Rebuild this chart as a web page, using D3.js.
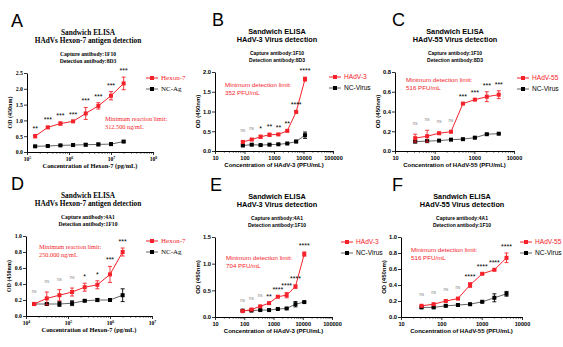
<!DOCTYPE html>
<html>
<head>
<meta charset="utf-8">
<script src="https://cdn.jsdelivr.net/npm/d3@7"></script>
<style>
body { margin: 0; background: #fff; }
</style>
</head>
<body>
<div id="chart"></div>
<script>
// --- data ---
var concA = [156250, 312500, 625000, 1250000, 2500000, 5000000, 10000000, 20000000];
var hexonA = [0.50, 0.78, 0.90, 0.97, 1.22, 1.46, 1.78, 2.17];
var hexonErrA = [0.05, 0.03, 0.05, 0.02, 0.19, 0.10, 0.13, 0.20];
var ncA = [0.18, 0.19, 0.21, 0.22, 0.23, 0.24, 0.25, 0.33];
var ncErrA = [0.02, 0.02, 0.02, 0.03, 0.04, 0.04, 0.04, 0.03];
var sigA = ["**", "***", "***", "***", "***", "***", "***", "***"];

var concB = [88, 176, 352, 704, 1408, 2816, 5632, 11264];
var hadv3B = [0.23, 0.29, 0.36, 0.41, 0.42, 0.51, 0.99, 1.82];
var hadv3ErrB = [0.02, 0.02, 0.04, 0.04, 0.02, 0.02, 0.02, 0.05];
var ncB = [0.14, 0.16, 0.15, 0.16, 0.17, 0.19, 0.24, 0.40];
var ncErrB = [0.02, 0.02, 0.01, 0.01, 0.01, 0.01, 0.03, 0.08];
var sigB = ["ns", "ns", "*", "**", "**", "**", "****", "****"];

var concC = [32.25, 64.5, 129, 258, 516, 1032, 2064, 4128];
var hadv55C = [0.13, 0.15, 0.18, 0.195, 0.48, 0.52, 0.55, 0.57];
var hadv55ErrC = [0.04, 0.06, 0.01, 0.01, 0.01, 0.01, 0.05, 0.04];
var ncC = [0.095, 0.10, 0.105, 0.115, 0.12, 0.135, 0.17, 0.175];
var ncErrC = [0.01, 0.01, 0.005, 0.005, 0.005, 0.01, 0.005, 0.005];
var sigC = ["ns", "ns", "ns", "ns", "***", "***", "***", "***"];

var concD = [15625, 31250, 62500, 125000, 250000, 500000, 1000000, 2000000];
var hexonD = [0.15, 0.22, 0.26, 0.30, 0.36, 0.39, 0.52, 0.80];
var hexonErrD = [0.02, 0.08, 0.07, 0.05, 0.05, 0.05, 0.10, 0.05];
var ncD = [0.15, 0.15, 0.15, 0.16, 0.19, 0.20, 0.20, 0.26];
var ncErrD = [0.01, 0.01, 0.03, 0.03, 0.01, 0.02, 0.01, 0.08];
var sigD = ["ns", "ns", "ns", "ns", "*", "*", "***", "***"];

var concE = [88, 176, 352, 704, 1408, 2816, 5632, 11264];
var hadv3E = [0.11, 0.14, 0.20, 0.26, 0.38, 0.41, 0.57, 1.18];
var hadv3ErrE = [0.01, 0.01, 0.01, 0.01, 0.01, 0.05, 0.03, 0.04];
var ncE = [0.12, 0.12, 0.13, 0.13, 0.15, 0.16, 0.24, 0.28];
var ncErrE = [0.01, 0.01, 0.01, 0.01, 0.01, 0.01, 0.05, 0.01];
var sigE = ["ns", "ns", "ns", "**", "****", "****", "****", "****"];

var concF = [32.25, 64.5, 129, 258, 516, 1032, 2064, 4128];
var hadv55F = [0.14, 0.16, 0.20, 0.23, 0.40, 0.54, 0.59, 0.74];
var hadv55ErrF = [0.01, 0.01, 0.01, 0.01, 0.03, 0.01, 0.01, 0.06];
var ncF = [0.12, 0.12, 0.14, 0.15, 0.16, 0.19, 0.24, 0.29];
var ncErrF = [0.01, 0.01, 0.01, 0.01, 0.01, 0.01, 0.05, 0.03];
var sigF = ["ns", "ns", "ns", "ns", "****", "****", "****", "****"];

var RED = "#f5222a";
var SANS = '"Liberation Sans", Arial, sans-serif';
var SERIF = '"Liberation Serif", "Times New Roman", serif';

var svg = d3.select('#chart').append('svg')
    .attr('width', 563)
    .attr('height', 347)
    .style('display', 'block');

function drawPanel(p) {
    var ff = p.serif ? SERIF : SANS;
    var g = svg.append('g').style('font-family', ff);
    var x = d3.scaleLog().domain(p.xDomain).range([p.left, p.right]);
    var y = d3.scaleLinear().domain([0, p.yMax]).range([p.bottom, p.top]);

    // panel letter
    g.append('text').attr('x', p.letterX).attr('y', p.top - 46)
        .style('font-family', SANS).style('font-size', '18px')
        .text(p.letter);

    // titles
    var tx = p.titleX;
    g.append('text').attr('x', tx).attr('y', p.top - 38).attr('text-anchor', 'middle')
        .style('font-size', '7.3px').style('font-weight', 'bold').text('Sandwich ELISA');
    g.append('text').attr('x', tx).attr('y', p.top - 30).attr('text-anchor', 'middle')
        .style('font-size', '7.3px').style('font-weight', 'bold').text(p.title);
    g.append('text').attr('x', tx).attr('y', p.top - 17).attr('text-anchor', 'middle')
        .style('font-size', p.serif ? '5.6px' : '5px').style('font-weight', 'bold').text(p.capture);
    g.append('text').attr('x', tx).attr('y', p.top - 10).attr('text-anchor', 'middle')
        .style('font-size', p.serif ? '5.6px' : '5px').style('font-weight', 'bold').text(p.detection);

    // x axis (log) with major + minor ticks
    var lo = Math.round(Math.log10(p.xDomain[0])), hi = Math.round(Math.log10(p.xDomain[1]));
    var majors = d3.range(lo, hi + 1).map(function (k) { return Math.pow(10, k); });
    var minors = [];
    d3.range(lo, hi).forEach(function (k) {
        for (var m = 2; m <= 9; m++) minors.push(m * Math.pow(10, k));
    });
    var xg = g.append('g').attr('transform', 'translate(0,' + p.bottom + ')');
    xg.call(d3.axisBottom(x).tickValues(minors).tickSize(1.6).tickSizeOuter(0).tickFormat(''));
    var xMaj = g.append('g').attr('transform', 'translate(0,' + p.bottom + ')')
        .call(d3.axisBottom(x).tickValues(majors).tickSize(3).tickSizeOuter(0)
            .tickFormat(function (d) { return p.serif ? '10' : d3.format('d')(d); }));
    xMaj.select('.domain').remove();
    xMaj.selectAll('text').attr('y', 5).style('font-family', ff).style('font-size', '5.6px')
        .style('font-weight', 'bold').attr('fill', '#000');
    if (p.serif) {
        xMaj.selectAll('text').append('tspan').attr('dy', '-2.2').style('font-size', '3.8px')
            .text(function (d) { return Math.round(Math.log10(d)); });
    }
    g.selectAll('.domain').attr('stroke', '#000').attr('stroke-width', 1);
    g.selectAll('.tick line').attr('stroke', '#000').attr('stroke-width', 0.8);

    // y axis
    var yg = g.append('g').attr('transform', 'translate(' + p.left + ',0)')
        .call(d3.axisLeft(y).tickValues(d3.range(0, p.yMax + 1e-9, p.yStep)).tickSize(3).tickSizeOuter(0)
            .tickFormat(d3.format('.1f')));
    yg.select('.domain').attr('stroke', '#000').attr('stroke-width', 1);
    yg.selectAll('.tick line').attr('stroke', '#000').attr('stroke-width', 0.8);
    yg.selectAll('text').attr('x', -4).style('font-family', ff).style('font-size', '5.8px')
        .style('font-weight', 'bold').attr('fill', '#000');

    // axis titles
    g.append('text').attr('x', (p.left + p.right) / 2).attr('y', p.bottom + 16).attr('text-anchor', 'middle')
        .style('font-size', p.serif ? '6.4px' : '6px').style('font-weight', 'bold').text(p.xLabel);
    g.append('text').attr('transform', 'translate(' + (p.left - 15) + ',' + ((p.top + p.bottom) / 2) + ') rotate(-90)')
        .attr('text-anchor', 'middle').style('font-size', '6px').style('font-weight', 'bold').text('OD (450nm)');

    // series
    function series(conc, vals, errs, color, lineColor) {
        var pts = conc.map(function (c, i) { return { c: c, v: vals[i], e: errs[i] }; });
        var line = d3.line().x(function (d) { return x(d.c); }).y(function (d) { return y(d.v); });
        g.append('path').datum(pts).attr('d', line).attr('fill', 'none')
            .attr('stroke', lineColor).attr('stroke-width', 1);
        var eb = g.append('g').selectAll('g').data(pts).enter().append('g')
            .attr('stroke', color).attr('stroke-width', 0.9);
        eb.append('line').attr('x1', function (d) { return x(d.c); }).attr('x2', function (d) { return x(d.c); })
            .attr('y1', function (d) { return y(d.v - d.e); }).attr('y2', function (d) { return y(d.v + d.e); });
        [1, -1].forEach(function (s) {
            eb.append('line').attr('x1', function (d) { return x(d.c) - 2; }).attr('x2', function (d) { return x(d.c) + 2; })
                .attr('y1', function (d) { return y(d.v + s * d.e); }).attr('y2', function (d) { return y(d.v + s * d.e); });
        });
        g.append('g').selectAll('rect').data(pts).enter().append('rect')
            .attr('x', function (d) { return x(d.c) - 2; }).attr('y', function (d) { return y(d.v) - 2; })
            .attr('width', 4).attr('height', 4).attr('fill', color);
        return pts;
    }
    series(p.conc, p.nc, p.ncErr, '#000', '#666');
    var redPts = series(p.conc, p.red, p.redErr, RED, RED);

    // significance marks
    g.append('g').selectAll('text').data(redPts).enter().append('text')
        .attr('x', function (d) { return x(d.c); })
        .attr('y', function (d, i) { return y(d.v + d.e) - (p.sig[i] === 'ns' ? 9 : 4); })
        .attr('text-anchor', 'middle')
        .attr('fill', function (d, i) { return p.sig[i] === 'ns' ? '#888' : '#000'; })
        .style('font-family', SANS)
        .style('font-size', function (d, i) { return p.sig[i] === 'ns' ? '4.5px' : '7px'; })
        .text(function (d, i) { return p.sig[i]; });

    // annotation
    g.append('text').attr('x', p.noteX).attr('y', p.noteY).attr('fill', RED)
        .style('font-size', p.serif ? '6.3px' : '6.2px').text(p.note1);
    g.append('text').attr('x', p.noteX).attr('y', p.noteY + 7.5).attr('fill', RED)
        .style('font-size', p.serif ? '6.3px' : '6.2px').text(p.note2);

    // legend
    var leg = [{ name: p.redName, color: RED, line: RED }, { name: p.ncName, color: '#000', line: '#666' }];
    leg.forEach(function (l, i) {
        var ly = p.legY + i * 11;
        g.append('line').attr('x1', p.legX).attr('x2', p.legX + 12).attr('y1', ly).attr('y2', ly)
            .attr('stroke', l.line).attr('stroke-width', 1);
        g.append('rect').attr('x', p.legX + 4).attr('y', ly - 2).attr('width', 4).attr('height', 4).attr('fill', l.color);
        g.append('text').attr('x', p.legX + 15).attr('y', ly + 2.3).attr('fill', l.color)
            .style('font-size', p.serif ? '7px' : '6.6px').text(l.name);
    });
}

var panels = [
    { letter: 'A', serif: true, letterX: 11, titleX: 88, left: 27, right: 153, top: 73, bottom: 152,
      xDomain: [1e5, 1e8], yMax: 2.5, yStep: 0.5,
      title: 'HAdVs Hexon-7 antigen detection', capture: 'Capture antibody:1F10', detection: 'Detection antibody:8D3',
      xLabel: 'Concentration of Hexon-7 (pg/mL)',
      conc: concA, red: hexonA, redErr: hexonErrA, nc: ncA, ncErr: ncErrA, sig: sigA,
      redName: 'Hexon-7', ncName: 'NC-Ag', legX: 146, legY: 78,
      noteX: 105, noteY: 121, note1: 'Minimum reaction limit:', note2: '312.500 ng/mL' },
    { letter: 'B', serif: false, letterX: 212, titleX: 277, left: 215, right: 333, top: 72, bottom: 151,
      xDomain: [10, 1e5], yMax: 2.0, yStep: 0.5,
      title: 'HAdV-3 Virus detection', capture: 'Capture antibody:1F10', detection: 'Detection antibody:8D3',
      xLabel: 'Concentration of HAdV-3 (PFU/mL)',
      conc: concB, red: hadv3B, redErr: hadv3ErrB, nc: ncB, ncErr: ncErrB, sig: sigB,
      redName: 'HAdV-3', ncName: 'NC-Virus', legX: 329, legY: 77,
      noteX: 225, noteY: 87, note1: 'Minimum detection limit:', note2: '352 PFU/mL' },
    { letter: 'C', serif: false, letterX: 392, titleX: 455, left: 395, right: 514, top: 72, bottom: 151,
      xDomain: [10, 1e4], yMax: 0.8, yStep: 0.2,
      title: 'HAdV-55 Virus detection', capture: 'Capture antibody:1F10', detection: 'Detection antibody:8D3',
      xLabel: 'Concentration of HAdV-55 (PFU/mL)',
      conc: concC, red: hadv55C, redErr: hadv55ErrC, nc: ncC, ncErr: ncErrC, sig: sigC,
      redName: 'HAdV-55', ncName: 'NC-Virus', legX: 517, legY: 78,
      noteX: 406, noteY: 82, note1: 'Minimum detection limit:', note2: '516 PFU/mL' },
    { letter: 'D', serif: true, letterX: 11, titleX: 88, left: 26, right: 152, top: 236, bottom: 316,
      xDomain: [1e4, 1e7], yMax: 1.0, yStep: 0.2,
      title: 'HAdVs Hexon-7 antigen detection', capture: 'Capture antibody:4A1', detection: 'Detection antibody:1F10',
      xLabel: 'Concentration  of Hexon-7 (pg/mL)',
      conc: concD, red: hexonD, redErr: hexonErrD, nc: ncD, ncErr: ncErrD, sig: sigD,
      redName: 'Hexon-7', ncName: 'NC-Ag', legX: 146, legY: 241,
      noteX: 39, noteY: 249, note1: 'Minimum reaction limit:', note2: '250.000 ng/mL' },
    { letter: 'E', serif: false, letterX: 210, titleX: 277, left: 215, right: 332, top: 237, bottom: 317,
      xDomain: [10, 1e5], yMax: 1.5, yStep: 0.5,
      title: 'HAdV-3 Virus detection', capture: 'Capture antibody:4A1', detection: 'Detection antibody:1F10',
      xLabel: 'Concentration of HAdV-3 (PFU/mL)',
      conc: concE, red: hadv3E, redErr: hadv3ErrE, nc: ncE, ncErr: ncErrE, sig: sigE,
      redName: 'HAdV-3', ncName: 'NC-Virus', legX: 341, legY: 242,
      noteX: 226, noteY: 260, note1: 'Minimum detection limit:', note2: '704 PFU/mL' },
    { letter: 'F', serif: false, letterX: 392, titleX: 462, left: 401, right: 522, top: 237, bottom: 317,
      xDomain: [10, 1e4], yMax: 1.0, yStep: 0.2,
      title: 'HAdV-55 Virus detection', capture: 'Capture antibody:4A1', detection: 'Detection antibody:1F10',
      xLabel: 'Concentration of HAdV-55 (PFU/mL)',
      conc: concF, red: hadv55F, redErr: hadv55ErrF, nc: ncF, ncErr: ncErrF, sig: sigF,
      redName: 'HAdV-55', ncName: 'NC-Virus', legX: 520, legY: 242,
      noteX: 411, noteY: 252, note1: 'Minimum detection limit:', note2: '516 PFU/mL' }
];

panels.forEach(drawPanel);
</script>
</body>
</html>
